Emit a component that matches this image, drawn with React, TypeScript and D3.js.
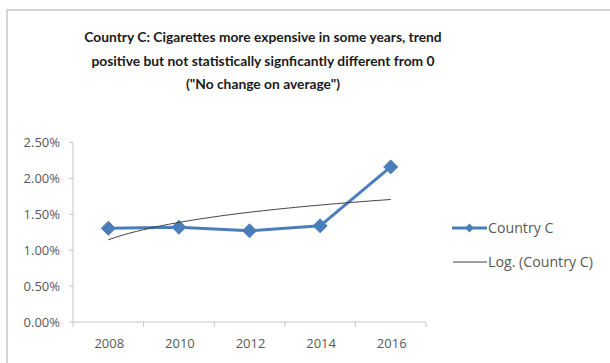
import React from "react";
import * as d3 from "d3";

const years = ["2008", "2010", "2012", "2014", "2016"];
const values = [1.305, 1.32, 1.27, 1.34, 2.16];
const yTicks = [0, 0.5, 1.0, 1.5, 2.0, 2.5];
const titleLines = [
  "Country C: Cigarettes more expensive in some years, trend",
  "positive but not statistically signficantly different from 0",
  '("No change on average")',
];
const legendLabels = ["Country C", "Log. (Country C)"];

const W = 610;
const H = 363;
const FONT = "Lato, 'Open Sans', sans-serif";
const AFONT = "'Open Sans', sans-serif";

export default function App() {
  const x = d3.scaleBand().domain(years).range([73, 426]);
  const y = d3.scaleLinear().domain([0, 2.5]).range([322, 142.5]);
  const cx = (i: number) => (x(years[i]) as number) + x.bandwidth() / 2;

  // logarithmic trendline (least squares on ln(index))
  const lx = values.map((_, i) => Math.log(i + 1));
  const mx = d3.mean(lx) as number;
  const my = d3.mean(values) as number;
  const b =
    d3.sum(lx.map((v, i) => (v - mx) * (values[i] - my))) /
    d3.sum(lx.map((v) => (v - mx) * (v - mx)));
  const a = my - b * mx;
  const xi = d3.scaleLinear().domain([1, values.length]).range([cx(0), cx(values.length - 1)]);
  const trendPts = d3.range(1, values.length + 0.001, 0.05).map((t) => [xi(t), y(a + b * Math.log(t))] as [number, number]);
  const trendPath = d3.line().curve(d3.curveLinear)(trendPts) as string;

  const linePath = d3
    .line<number>()
    .x((_, i) => cx(i))
    .y((d) => y(d))(values) as string;

  const diamond = (px: number, py: number, r: number) =>
    `M${px},${py - r}L${px + r},${py}L${px},${py + r}L${px - r},${py}Z`;

  const blue = "#4a7ebb";
  const axisColor = "#c6c6c6";
  const textColor = "#595959";

  return (
    <svg width={W} height={H} style={{ position: "absolute", left: 0, top: 0 }}>
      <rect x={0} y={0} width={W} height={H} fill="#fff" />
      <rect x={7} y={10} width={W + 10} height={H + 10} fill="#fff" stroke="#c8c8c8" strokeWidth={1.5} />
      {titleLines.map((t, i) => (
        <text
          key={i}
          x={263}
          y={42 + i * 23.5}
          textAnchor="middle"
          fontFamily={FONT}
          fontWeight="bold"
          fontSize={13.8}
          fill="#1a1a1a"
        >
          {t}
        </text>
      ))}
      {/* y axis */}
      <line x1={73} x2={73} y1={y(2.5)} y2={y(0)} stroke={axisColor} />
      {yTicks.map((t) => (
        <g key={t}>
          <line x1={69} x2={73} y1={y(t)} y2={y(t)} stroke={axisColor} />
          <text x={60} y={y(t) + 4.5} textAnchor="end" fontFamily={AFONT} fontSize={13} fill={textColor}>
            {t.toFixed(2) + "%"}
          </text>
        </g>
      ))}
      {/* x axis */}
      <line x1={73} x2={426} y1={y(0)} y2={y(0)} stroke={axisColor} />
      {years.map((yr, i) => (
        <g key={yr}>
          <line
            x1={(x(yr) as number) + x.bandwidth()}
            x2={(x(yr) as number) + x.bandwidth()}
            y1={y(0)}
            y2={y(0) + 5}
            stroke={axisColor}
          />
          <text x={cx(i) + 1} y={348} textAnchor="middle" fontFamily={AFONT} fontSize={13} fill={textColor}>
            {yr}
          </text>
        </g>
      ))}
      <line x1={73} x2={73} y1={y(0)} y2={y(0) + 5} stroke={axisColor} />
      {/* series */}
      <path d={linePath} fill="none" stroke={blue} strokeWidth={3} strokeLinejoin="round" />
      {values.map((v, i) => (
        <path key={i} d={diamond(cx(i), y(v), 7)} fill={blue} stroke={blue} />
      ))}
      <path d={trendPath} fill="none" stroke="#404040" strokeWidth={1} />
      {/* legend */}
      <line x1={452} x2={487} y1={228} y2={228} stroke={blue} strokeWidth={3} />
      <path d={diamond(469.5, 228, 4.5)} fill={blue} />
      <text x={488} y={233} fontFamily={AFONT} fontSize={14.2} fill={textColor}>
        {legendLabels[0]}
      </text>
      <line x1={453} x2={487} y1={262} y2={262} stroke="#404040" strokeWidth={1} />
      <text x={488} y={267} fontFamily={AFONT} fontSize={14.2} fill={textColor}>
        {legendLabels[1]}
      </text>
    </svg>
  );
}
